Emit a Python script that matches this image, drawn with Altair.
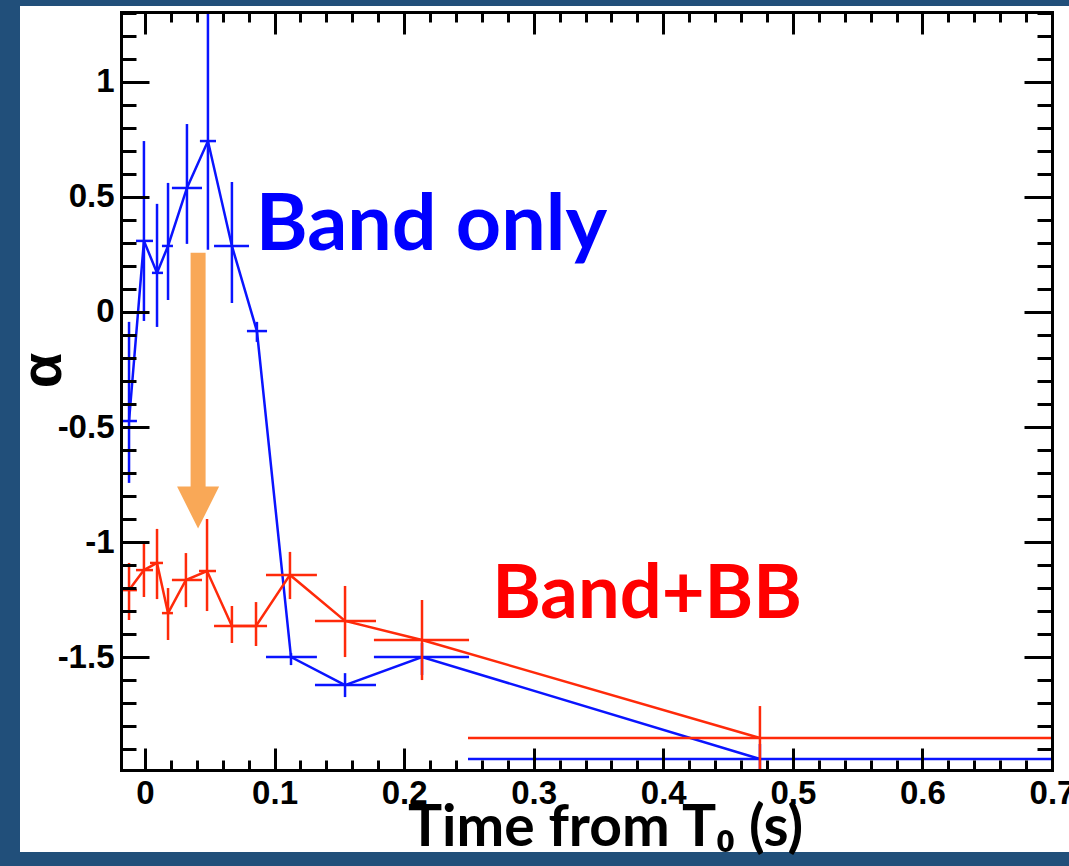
import altair as alt
import pandas as pd

# ---------------- data ----------------
# "Band only" fit
band_t = [-0.0123, -0.0008, 0.0093, 0.0178, 0.0324, 0.0486, 0.0671, 0.0864, 0.1127, 0.1544, 0.2138, 0.4746]
band_t_lo = [-0.0185, -0.0069, 0.0054, 0.0131, 0.0208, 0.0424, 0.0533, 0.0787, 0.0934, 0.1312, 0.1767, 0.2493]
band_t_hi = [-0.0062, 0.0062, 0.0139, 0.0216, 0.0440, 0.0548, 0.0803, 0.0942, 0.1327, 0.1783, 0.2501, 0.7000]
band_alpha = [-0.474, 0.309, 0.170, 0.287, 0.539, 0.743, 0.287, -0.083, -1.500, -1.622, -1.500, -1.943]
band_alpha_lo = [-0.743, -0.039, -0.065, 0.052, 0.296, 0.270, 0.039, -0.130, -1.535, -1.674, -1.578, -2.010]
band_alpha_hi = [-0.043, 0.743, 0.470, 0.561, 0.817, 1.400, 0.565, -0.043, -1.483, -1.570, -1.439, -1.878]

# "Band+BB" fit
bb_t = [-0.0123, -0.0008, 0.0093, 0.0178, 0.0316, 0.0479, 0.0671, 0.0857, 0.1119, 0.1544, 0.2138, 0.4746]
bb_t_lo = [-0.0185, -0.0069, 0.0039, 0.0131, 0.0208, 0.0417, 0.0533, 0.0756, 0.0934, 0.1312, 0.1767, 0.2493]
bb_t_hi = [-0.0062, 0.0062, 0.0139, 0.0216, 0.0440, 0.0548, 0.0756, 0.0942, 0.1327, 0.1783, 0.2501, 0.7000]
bb_alpha = [-1.209, -1.122, -1.091, -1.309, -1.165, -1.126, -1.365, -1.365, -1.143, -1.343, -1.426, -1.852]
bb_alpha_lo = [-1.339, -1.239, -1.248, -1.426, -1.283, -1.300, -1.439, -1.452, -1.248, -1.500, -1.600, -2.010]
bb_alpha_hi = [-1.091, -1.004, -0.943, -1.200, -1.048, -0.900, -1.278, -1.261, -1.043, -1.191, -1.252, -1.713]

# axis ticks / labels
x_major = [0, 0.1, 0.2, 0.3, 0.4, 0.5, 0.6, 0.7]
x_minor = [round(i * 0.02, 2) for i in range(36)]
y_major = [-1.5, -1, -0.5, 0, 0.5, 1]
y_minor = [round(-1.9 + 0.1 * i, 1) for i in range(33)]

# annotations
labels_text = ["Band only", "Band+BB"]
labels_t = [0.0855, 0.2680]
labels_alpha = [0.27, -1.33]
labels_color = ["#0000ff", "#ff0000"]
labels_size = [79, 74]
arrow_t = [0.041]
arrow_top = [0.257]
arrow_bottom = [-0.761]
arrow_head = [-0.85]

X_DOMAIN = [-0.0185, 0.70]
Y_DOMAIN = [-1.991, 1.304]
W, H = 931, 758

BLUE = "#0a14ff"
RED = "#ff2a0a"
ORANGE = "#f9a857"

band = pd.DataFrame(dict(t=band_t, t_lo=band_t_lo, t_hi=band_t_hi,
                         a=band_alpha, a_lo=band_alpha_lo, a_hi=band_alpha_hi))
bb = pd.DataFrame(dict(t=bb_t, t_lo=bb_t_lo, t_hi=bb_t_hi,
                       a=bb_alpha, a_lo=bb_alpha_lo, a_hi=bb_alpha_hi))
ann = pd.DataFrame(dict(t=labels_t, a=labels_alpha, label=labels_text,
                        color=labels_color, size=labels_size))
arrow = pd.DataFrame(dict(t=arrow_t, top=arrow_top, bottom=arrow_bottom, head=arrow_head))
dummy = pd.DataFrame(dict(t=[0.0], a=[0.0]))

xs = alt.Scale(domain=X_DOMAIN, nice=False, zero=False)
ys = alt.Scale(domain=Y_DOMAIN, nice=False, zero=False)


def X(field, axis=None):
    return alt.X(field, type="quantitative", scale=xs, axis=axis)


def Y(field, axis=None):
    return alt.Y(field, type="quantitative", scale=ys, axis=axis)


layers = []

# white slide area (decorative)
layers.append(
    alt.Chart(dummy).mark_rect(color="white").encode(
        x=alt.value(-101), x2=alt.value(W + 20), y=alt.value(-6), y2=alt.value(H + 82)
    )
)

# data series
for df, col in [(band, BLUE), (bb, RED)]:
    layers.append(
        alt.Chart(df).mark_rule(color=col, strokeWidth=2.5, clip=True).encode(
            x=X("t_lo"), x2="t_hi", y=Y("a"))
    )
    layers.append(
        alt.Chart(df).mark_rule(color=col, strokeWidth=2.5, clip=True).encode(
            x=X("t"), y=Y("a_lo"), y2="a_hi")
    )
    layers.append(
        alt.Chart(df).mark_line(color=col, strokeWidth=2.5, clip=True).encode(
            x=X("t"), y=Y("a"))
    )

# orange arrow
layers.append(
    alt.Chart(arrow).mark_rule(color=ORANGE, strokeWidth=15, strokeCap="butt").encode(
        x=X("t"), y=Y("top"), y2="bottom")
)
layers.append(
    alt.Chart(arrow).mark_point(shape="M-1,-1L1,-1L0,1Z", filled=True, size=1764,
                                color=ORANGE, opacity=1, strokeWidth=0).encode(
        x=X("t"), y=Y("head"))
)

# text labels
layers.append(
    alt.Chart(ann).mark_text(align="left", baseline="alphabetic", font="Lato",
                             fontWeight="bold").encode(
        x=X("t"), y=Y("a"), text="label:N",
        color=alt.Color("color:N", scale=None),
        size=alt.Size("size:Q", scale=None))
)

# ---------------- axes (ROOT style, ticks inside on all four sides) ----------------
common = dict(grid=False, title=None, zindex=1)
tick_style = dict(tickColor="black", tickWidth=3, labels=False, domainColor="black",
                  domainWidth=3, domainCap="square", **common)

label_x_axis = alt.Axis(
    orient="bottom", values=x_major, ticks=False, tickSize=0, domain=False, grid=False, zindex=1,
    labelExpr="toString(datum.value)", labelFont="Liberation Sans", labelFontWeight="bold",
    labelFontSize=33, labelColor="black", labelPadding=7, labelFlush=False, labelOverlap=False,
    title="Time from T\u2080 (s)", titleFont="Lato", titleFontWeight="bold", titleFontSize=57,
    titleColor="black", titleX=484, titleY=75, titleBaseline="alphabetic", titleAlign="center",
)
label_y_axis = alt.Axis(
    orient="left", values=y_major, ticks=False, tickSize=0, domain=False, grid=False, zindex=1,
    labelExpr="toString(datum.value)", labelFont="Liberation Sans", labelFontWeight="bold",
    labelFontSize=33, labelColor="black", labelPadding=7, labelFlush=False, labelOverlap=False,
    title="\u03b1", titleFont="Liberation Sans", titleFontWeight="bold", titleFontSize=58,
    titleColor="black", titleX=-61, titleY=358, titleBaseline="alphabetic", titleAlign="center",
    titleAngle=270,
)

axis_pairs = [
    (label_x_axis, label_y_axis),
    # bottom & left, major
    (alt.Axis(orient="top", offset=-H, values=x_major, tickSize=22, **tick_style),
     alt.Axis(orient="right", offset=-W, values=y_major, tickSize=28, **tick_style)),
    # bottom & left, minor
    (alt.Axis(orient="top", offset=-H, values=x_minor, tickSize=10, **tick_style),
     alt.Axis(orient="right", offset=-W, values=y_minor, tickSize=15, **tick_style)),
    # top & right, major
    (alt.Axis(orient="bottom", offset=-H, values=x_major, tickSize=22, **tick_style),
     alt.Axis(orient="left", offset=-W, values=y_major, tickSize=28, **tick_style)),
    # top & right, minor
    (alt.Axis(orient="bottom", offset=-H, values=x_minor, tickSize=10, **tick_style),
     alt.Axis(orient="left", offset=-W, values=y_minor, tickSize=15, **tick_style)),
]
for ax_x, ax_y in axis_pairs:
    layers.append(
        alt.Chart(dummy).mark_point(opacity=0).encode(x=X("t", ax_x), y=Y("a", ax_y))
    )

chart = (
    alt.layer(*layers)
    .resolve_scale(x="shared", y="shared")
    .resolve_axis(x="independent", y="independent")
    .properties(
        width=W, height=H,
        autosize=alt.AutoSizeParams(type="none"),
        padding={"left": 121, "top": 12, "right": 17, "bottom": 96},
        background="#214f7a",
    )
    .configure_view(stroke=None)
)

chart.save("out.html", embed_options={"renderer": "svg", "actions": False})
